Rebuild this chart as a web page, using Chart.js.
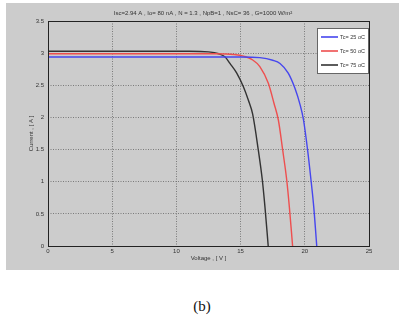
<!DOCTYPE html>
<html>
<head>
<meta charset="utf-8">
<script src="https://cdn.jsdelivr.net/npm/chart.js@4/dist/chart.umd.min.js"></script>
<style>
  html, body { margin: 0; padding: 0; background: #fff; }
  body { width: 404px; height: 318px; position: relative; overflow: hidden; }
  #panel { position: absolute; left: 6px; top: 3px; width: 393px; height: 267px; background: #cccccc; }
  #caption { position: absolute; left: 0; width: 404px; top: 298px; text-align: center;
             font-family: "Liberation Serif", serif; font-size: 15px; color: #111; }
</style>
</head>
<body>
<div id="panel"><canvas id="ivChart" width="393" height="267"></canvas></div>
<div id="caption">(b)</div>
<script>
const titleText = 'Isc=2.94 A , Io= 80 nA , N = 1.3 , NpB=1 , NsC= 36 , G=1000 W/m\u00b2';
const seriesLabels = ['Tc= 25 oC', 'Tc= 50 oC', 'Tc= 75 oC'];
const seriesColors = ['#4646ee', '#ee4f4f', '#333333'];

// voltage [V] / current [A]
const v25 = [0, 12, 15, 16.5, 17.5, 18.07, 18.71, 19.24, 19.63, 19.9, 20.22, 20.48, 20.7, 20.93];
const i25 = [2.94, 2.94, 2.94, 2.93, 2.89, 2.84, 2.69, 2.45, 2.2, 1.96, 1.49, 1.03, 0.6, 0];
const v50 = [0, 13, 14.5, 15.3, 15.9, 16.5, 17.16, 17.6, 17.94, 18.28, 18.59, 18.8, 19.05];
const i50 = [2.99, 2.99, 2.98, 2.95, 2.9, 2.79, 2.53, 2.22, 1.96, 1.49, 1.03, 0.6, 0];
const v75 = [0, 11, 12.5, 13.3, 13.8, 14.17, 14.7, 15.21, 15.6, 15.94, 16.38, 16.69, 16.9, 17.15];
const i75 = [3.03, 3.03, 3.02, 2.99, 2.94, 2.84, 2.69, 2.48, 2.27, 2.05, 1.49, 1.03, 0.6, 0];

const xTicks = [0, 5, 10, 15, 20, 25];
const xTickLabels = ['0', '5', '10', '15', '20', '25'];
const yTicks = [0, 0.5, 1, 1.5, 2, 2.5, 3, 3.5];
const yTickLabels = ['0', '0.5', '1', '1.5', '2', '2.5', '3', '3.5'];

const volts = [v25, v50, v75];
const amps = [i25, i50, i75];

const font = { family: 'Liberation Sans, Arial, sans-serif', size: 6 };

const datasets = seriesLabels.map((lab, k) => ({
  label: lab,
  data: volts[k].map((v, j) => ({ x: v, y: amps[k][j] })),
  borderColor: seriesColors[k],
  borderWidth: 1.4,
  pointRadius: 0,
  cubicInterpolationMode: 'monotone',
  fill: false
}));

// title, frame and legend box in MATLAB style
const figureBits = {
  id: 'figureBits',
  afterDraw(chart) {
    const { ctx, chartArea: a } = chart;
    ctx.save();
    ctx.strokeStyle = '#222';
    ctx.lineWidth = 1;
    ctx.strokeRect(Math.round(a.left) + 0.5, Math.round(a.top) + 0.5,
                   Math.round(a.right - a.left), Math.round(a.bottom - a.top));

    ctx.fillStyle = '#333';
    ctx.font = '6px ' + font.family;
    ctx.textAlign = 'center';
    ctx.textBaseline = 'middle';
    ctx.fillText(titleText, 197, 10.5);

    // legend
    const bx = 311, by = 25, bw = 51, bh = 45;
    ctx.fillStyle = '#fff';
    ctx.fillRect(bx, by, bw, bh);
    ctx.strokeStyle = '#666';
    ctx.strokeRect(bx + 0.5, by + 0.5, bw, bh);
    ctx.font = '5.5px ' + font.family;
    ctx.textAlign = 'left';
    chart.data.datasets.forEach((ds, k) => {
      const y = by + 9 + k * 14;
      ctx.strokeStyle = ds.borderColor;
      ctx.lineWidth = 1.6;
      ctx.beginPath();
      ctx.moveTo(bx + 4, y);
      ctx.lineTo(bx + 21, y);
      ctx.stroke();
      ctx.fillStyle = '#333';
      ctx.fillText(ds.label, bx + 23, y);
    });
    ctx.restore();
  }
};

new Chart(document.getElementById('ivChart'), {
  type: 'line',
  data: { datasets: datasets },
  options: {
    responsive: false,
    animation: false,
    layout: { padding: { left: 0, right: 30, top: 18, bottom: 0 } },
    plugins: { legend: { display: false }, tooltip: { enabled: false } },
    scales: {
      x: {
        type: 'linear', min: 0, max: 25,
        afterBuildTicks: s => { s.ticks = xTicks.map(v => ({ value: v })); },
        afterFit: s => { s.height = 24; },
        ticks: { font: font, color: '#333', padding: 2, maxRotation: 0,
                 callback: (v, i) => xTickLabels[i] },
        grid: { color: '#666', lineWidth: 0.8, drawTicks: false },
        border: { display: false, dash: [1, 1.5] },
        title: { display: true, text: 'Voltage , [ V ]', font: font, color: '#333',
                 padding: { top: 0, bottom: 8.4 } }
      },
      y: {
        min: 0, max: 3.5,
        afterBuildTicks: s => { s.ticks = yTicks.map(v => ({ value: v })); },
        afterFit: s => { s.width = 42; },
        ticks: { font: font, color: '#333', padding: 4,
                 callback: (v, i) => yTickLabels[i] },
        grid: { color: '#666', lineWidth: 0.8, drawTicks: false },
        border: { display: false, dash: [1, 1.5] },
        title: { display: true, text: 'Current , [ A ]', font: font, color: '#333',
                 padding: { top: 21.4, bottom: 0 } }
      }
    }
  },
  plugins: [figureBits]
});
</script>
</body>
</html>
